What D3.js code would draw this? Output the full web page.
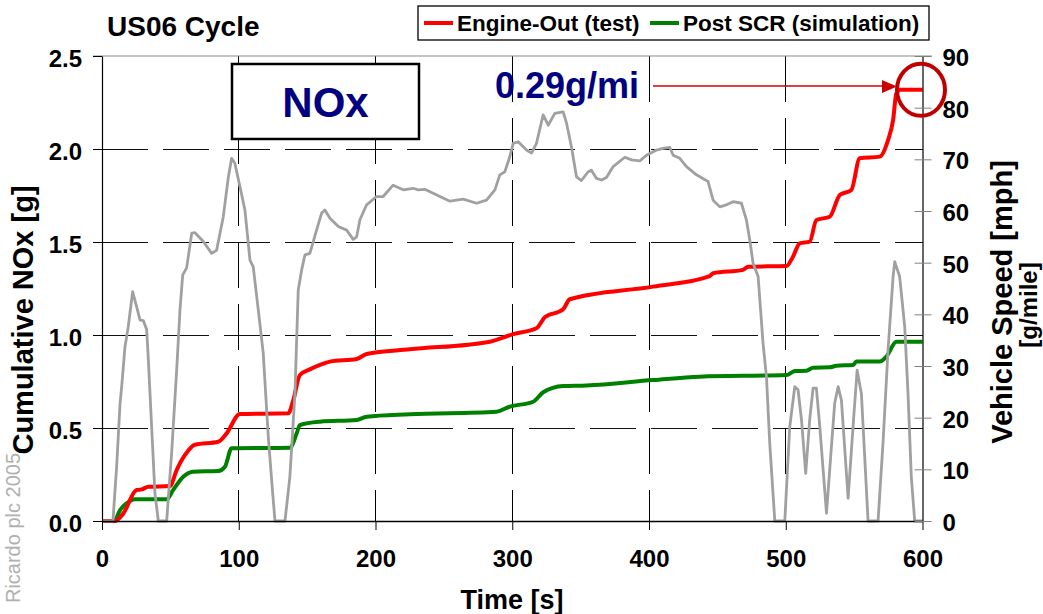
<!DOCTYPE html>
<html>
<head>
<meta charset="utf-8">
<script src="https://cdn.jsdelivr.net/npm/d3@7"></script>
<style>
  html, body { margin: 0; padding: 0; background: #fff; }
  svg { display: block; }
  text { font-family: "Liberation Sans", Arial, sans-serif; }
</style>
</head>
<body>
<svg id="chart" width="1043" height="614"></svg>
<script>
// ---- data (time [s], value) ----
const engineOut = [[0,0],[9.5,0],[15.6,0.041],[25.3,0.167],[29,0.17],[33.9,0.184],[49.7,0.188],[54.6,0.274],[60.7,0.355],[68,0.41],[85,0.426],[91,0.47],[100.9,0.575],[136.2,0.579],[139.9,0.65],[144.7,0.785],[152,0.815],[159.4,0.839],[166.7,0.857],[186.2,0.871],[193.5,0.898],[225,0.923],[283.6,0.964],[300.7,1.005],[317.7,1.036],[323.8,1.095],[337.2,1.138],[342.1,1.192],[403,1.26],[444.4,1.317],[446.9,1.332],[468.8,1.35],[472.5,1.367],[500.5,1.371],[505.3,1.421],[510.2,1.493],[517.5,1.502],[522.4,1.618],[532.2,1.636],[539.5,1.753],[548,1.78],[554.1,1.95],[568.7,1.959],[574.8,2.048],[578.5,2.156],[580.9,2.3],[584,2.318],[600,2.318]];
const postScr = [[0,0],[9,0],[13.2,0.059],[18,0.095],[24.1,0.117],[47.3,0.117],[52.1,0.167],[59.4,0.238],[66.7,0.265],[85,0.269],[89.9,0.292],[94.8,0.391],[137.4,0.394],[142.3,0.47],[144.7,0.516],[159.4,0.534],[186.2,0.543],[193.5,0.561],[225,0.574],[288.5,0.588],[298.2,0.615],[315.3,0.641],[322.6,0.692],[337.2,0.726],[354.3,0.729],[403,0.758],[437.1,0.776],[500.5,0.785],[506.6,0.806],[515.1,0.808],[520,0.824],[532.2,0.826],[537.1,0.835],[549.2,0.839],[551.7,0.857],[568.7,0.857],[573.6,0.884],[580.9,0.964],[600,0.964]];
const vehicleSpeed = [[0,0],[8,0],[10.7,10.5],[13.2,22.8],[14.4,26],[16.8,33.7],[19.2,37.6],[22.4,44.4],[25.3,41.5],[27.8,38.9],[30.2,38.8],[32.7,37],[33.9,31.2],[36.3,18.2],[38.7,5.4],[41.2,0],[47.3,0],[50.9,13.1],[54.6,29.2],[57,40.8],[59,47.6],[61.9,49],[65.6,55.7],[68,55.8],[74.1,54.1],[80.2,51.8],[83.8,52.4],[88.7,58.9],[92.4,66.6],[94.8,70.2],[97.2,69.2],[100.9,64.7],[104.5,60.2],[108.2,50.5],[110.6,49.2],[114.3,40.8],[117.9,32.5],[121.6,16.3],[124.8,5.4],[126.5,0],[133.8,0],[137.4,8.6],[141.1,24.7],[143.5,44.7],[146,48.6],[148.4,51.5],[152,51.8],[156.9,56.3],[160.6,59.6],[163,60.2],[166.7,58.6],[172.8,57],[178.9,56.3],[183.7,54.5],[186.2,55],[188.6,58.3],[193.5,61.2],[200.8,62.8],[205.6,62.8],[212.9,65],[220.2,64.1],[227.5,64.4],[231.2,64.1],[236.1,64.2],[247.1,62.8],[254.4,61.9],[264.1,62.3],[273.9,61.5],[281.2,62.1],[287.3,64.1],[290.9,67],[294.6,67.6],[298.2,70.5],[300.7,73.1],[304.3,73.4],[310.4,71.8],[314.1,71.2],[317.7,73.1],[322.6,78.6],[326.3,76.6],[331.1,78.9],[337.2,79.2],[339.7,77],[343.3,72.4],[347,66.6],[350.6,65.9],[355.5,67.6],[357.9,67.9],[361.6,66.3],[365.3,66],[368.9,66.5],[373.8,68.6],[382.3,70.4],[387.2,69.9],[393.3,69.7],[398.2,70.8],[405.5,71.8],[410.3,72.1],[415.2,72.3],[417.7,70.8],[422.5,70.2],[427.4,68.6],[434.7,67],[443.2,65.7],[446.9,62.1],[451.8,60.8],[456.6,61.2],[461.5,61.8],[467.6,61.5],[471.2,58.3],[473.7,54.4],[476.1,49.9],[479.8,47.3],[483.4,34.4],[485.9,27.9],[488.3,15],[492,0],[499.3,0],[502.9,18.2],[506.6,26],[509,25.4],[511.5,19.6],[514.6,9.2],[517.5,19.6],[520,25.7],[522.4,25.7],[524.9,18.2],[529.8,1.5],[533.4,14.4],[535.8,22.8],[538.3,26],[540.7,23.4],[545.6,4.4],[549.2,18.2],[552.2,29.2],[555.3,24.7],[560.2,0],[567.5,0],[571.1,15],[574.8,33.1],[578.5,47.3],[579.7,50.2],[583.3,47.3],[587,37.6],[589.4,24.7],[591.8,8.6],[594.3,0],[600,0]];

const xTicks = [0, 100, 200, 300, 400, 500, 600];
const yTicks = [0, 0.5, 1.0, 1.5, 2.0, 2.5];
const y2Ticks = [0, 10, 20, 30, 40, 50, 60, 70, 80, 90];

const titleText = "US06 Cycle";
const legendLabels = ["Engine-Out (test)", "Post SCR (simulation)"];
const legendColors = ["#ff0000", "#008000"];
const boxLabel = "NOx";
const annotationText = "0.29g/mi";

// ---- layout ----
const svg = d3.select("#chart");
const L = 102, R = 922.5, T = 56, B = 521;
const x = d3.scaleLinear().domain([0, 600]).range([L, R]);
const y = d3.scaleLinear().domain([0, 2.5]).range([B, T]);
const y2 = d3.scaleLinear().domain([0, 90]).range([B, T]);
const FONT = '"Liberation Sans", Arial, sans-serif';

// gridlines
svg.append("g").selectAll("line").data(yTicks.filter(d => d > 0 && d < 2.5)).join("line")
  .attr("x1", L).attr("x2", R).attr("y1", d => y(d)).attr("y2", d => y(d))
  .attr("stroke", "#111").attr("stroke-width", 1).attr("stroke-dasharray", "46,15")
  .attr("shape-rendering", "crispEdges");
svg.append("g").selectAll("line").data(xTicks.filter(d => d > 0 && d < 600)).join("line")
  .attr("x1", d => x(d)).attr("x2", d => x(d)).attr("y1", T).attr("y2", B)
  .attr("stroke", "#000").attr("stroke-width", 1).attr("stroke-dasharray", "46,16")
  .attr("shape-rendering", "crispEdges");

// top border (gray)
svg.append("line").attr("x1", 93).attr("x2", 932).attr("y1", T).attr("y2", T)
  .attr("stroke", "#8a8a8a").attr("stroke-width", 1.2);

// lines
const lineY = d3.line().x(d => x(d[0])).y(d => y(d[1])).curve(d3.curveMonotoneX);
const lineY2 = d3.line().x(d => x(d[0])).y(d => y2(d[1]));

svg.append("path").datum(postScr).attr("d", lineY)
  .attr("fill", "none").attr("stroke", legendColors[1]).attr("stroke-width", 4).attr("stroke-linejoin", "round");
svg.append("path").datum(engineOut).attr("d", lineY)
  .attr("fill", "none").attr("stroke", legendColors[0]).attr("stroke-width", 4).attr("stroke-linejoin", "round");
svg.append("path").datum(vehicleSpeed).attr("d", lineY2)
  .attr("fill", "none").attr("stroke", "#a0a0a0").attr("stroke-width", 2.8).attr("stroke-linejoin", "round");

// axes
const axisFont = g => g.selectAll("text").attr("font-family", FONT).attr("font-size", 24)
  .attr("font-weight", "bold").attr("fill", "#000");

const gx = svg.append("g").attr("transform", `translate(0,${B})`)
  .call(d3.axisBottom(x).tickValues(xTicks).tickSizeInner(9).tickSizeOuter(0).tickPadding(20).tickFormat(d3.format("d")));
gx.select(".domain").attr("stroke", "#000").attr("stroke-width", 1.3);
gx.selectAll(".tick line").attr("stroke", "#000");
axisFont(gx);

const gy = svg.append("g").attr("transform", `translate(${L},0)`)
  .call(d3.axisLeft(y).tickValues(yTicks).tickSizeInner(9).tickSizeOuter(0).tickPadding(11).tickFormat(d3.format(".1f")));
gy.select(".domain").attr("stroke", "#000").attr("stroke-width", 1.2);
gy.selectAll(".tick line").attr("stroke", "#000");
axisFont(gy);
gy.selectAll("text").attr("dy", "0.45em");

const gy2 = svg.append("g").attr("transform", `translate(${R},0)`)
  .call(d3.axisRight(y2).tickValues(y2Ticks).tickSizeInner(9).tickSizeOuter(0).tickPadding(11).tickFormat(d3.format("d")));
gy2.select(".domain").attr("stroke", "#000").attr("stroke-width", 1.2);
gy2.selectAll(".tick line").attr("stroke", "#808080").attr("x1", -8);
axisFont(gy2);
gy2.selectAll("text").attr("dy", "0.4em");

// axis titles
svg.append("text").attr("x", 512).attr("y", 609).attr("text-anchor", "middle")
  .attr("font-family", FONT).attr("font-size", 27).attr("font-weight", "bold").text("Time [s]");
svg.append("text").attr("transform", "translate(33,320) rotate(-90)").attr("text-anchor", "middle")
  .attr("font-family", FONT).attr("font-size", 29).attr("font-weight", "bold").text("Cumulative NOx [g]");
svg.append("text").attr("transform", "translate(1012,302) rotate(-90)").attr("text-anchor", "middle")
  .attr("font-family", FONT).attr("font-size", 29).attr("font-weight", "bold").text("Vehicle Speed [mph]");
svg.append("text").attr("transform", "translate(1037,305) rotate(-90)").attr("text-anchor", "middle")
  .attr("font-family", FONT).attr("font-size", 24).attr("font-weight", "bold").text("[g/mile]");

// watermark
svg.append("text").attr("transform", "translate(20,528) rotate(-90)").attr("text-anchor", "middle")
  .attr("font-family", FONT).attr("font-size", 20).attr("fill", "#b0b0b0").text("Ricardo plc 2005");

// title
svg.append("text").attr("x", 107).attr("y", 36)
  .attr("font-family", FONT).attr("font-size", 28).attr("font-weight", "bold").text(titleText);

// legend
const lg = svg.append("g");
lg.append("rect").attr("x", 418).attr("y", 6).attr("width", 511).attr("height", 34)
  .attr("fill", "#fff").attr("stroke", "#000").attr("stroke-width", 1.3);
const legX = [424, 650];
legendLabels.forEach((lab, i) => {
  lg.append("line").attr("x1", legX[i]).attr("x2", legX[i] + 29).attr("y1", 23).attr("y2", 23)
    .attr("stroke", legendColors[i]).attr("stroke-width", 4);
  lg.append("text").attr("x", legX[i] + 33).attr("y", 31)
    .attr("font-family", FONT).attr("font-size", 22.5).attr("font-weight", "bold").text(lab);
});

// NOx box
svg.append("rect").attr("x", 232).attr("y", 64).attr("width", 187).attr("height", 75)
  .attr("fill", "#fff").attr("stroke", "#000").attr("stroke-width", 2.5);
svg.append("text").attr("x", 325.5).attr("y", 117).attr("text-anchor", "middle")
  .attr("font-family", FONT).attr("font-size", 42).attr("font-weight", "bold").attr("fill", "#000080").text(boxLabel);

// annotation
svg.append("text").attr("x", 567).attr("y", 98).attr("text-anchor", "middle")
  .attr("font-family", FONT).attr("font-size", 36).attr("font-weight", "bold").attr("fill", "#000080").text(annotationText);
svg.append("line").attr("x1", 653).attr("x2", 884).attr("y1", 86).attr("y2", 86)
  .attr("stroke", "#cc0000").attr("stroke-width", 1.6);
svg.append("path").attr("d", "M882,80 L897,86.5 L882,93 Z").attr("fill", "#cc0000");
svg.append("ellipse").attr("cx", x(600) - 1.5).attr("cy", y(2.318)).attr("rx", 24).attr("ry", 26)
  .attr("fill", "none").attr("stroke", "#c00000").attr("stroke-width", 4);
</script>
</body>
</html>
